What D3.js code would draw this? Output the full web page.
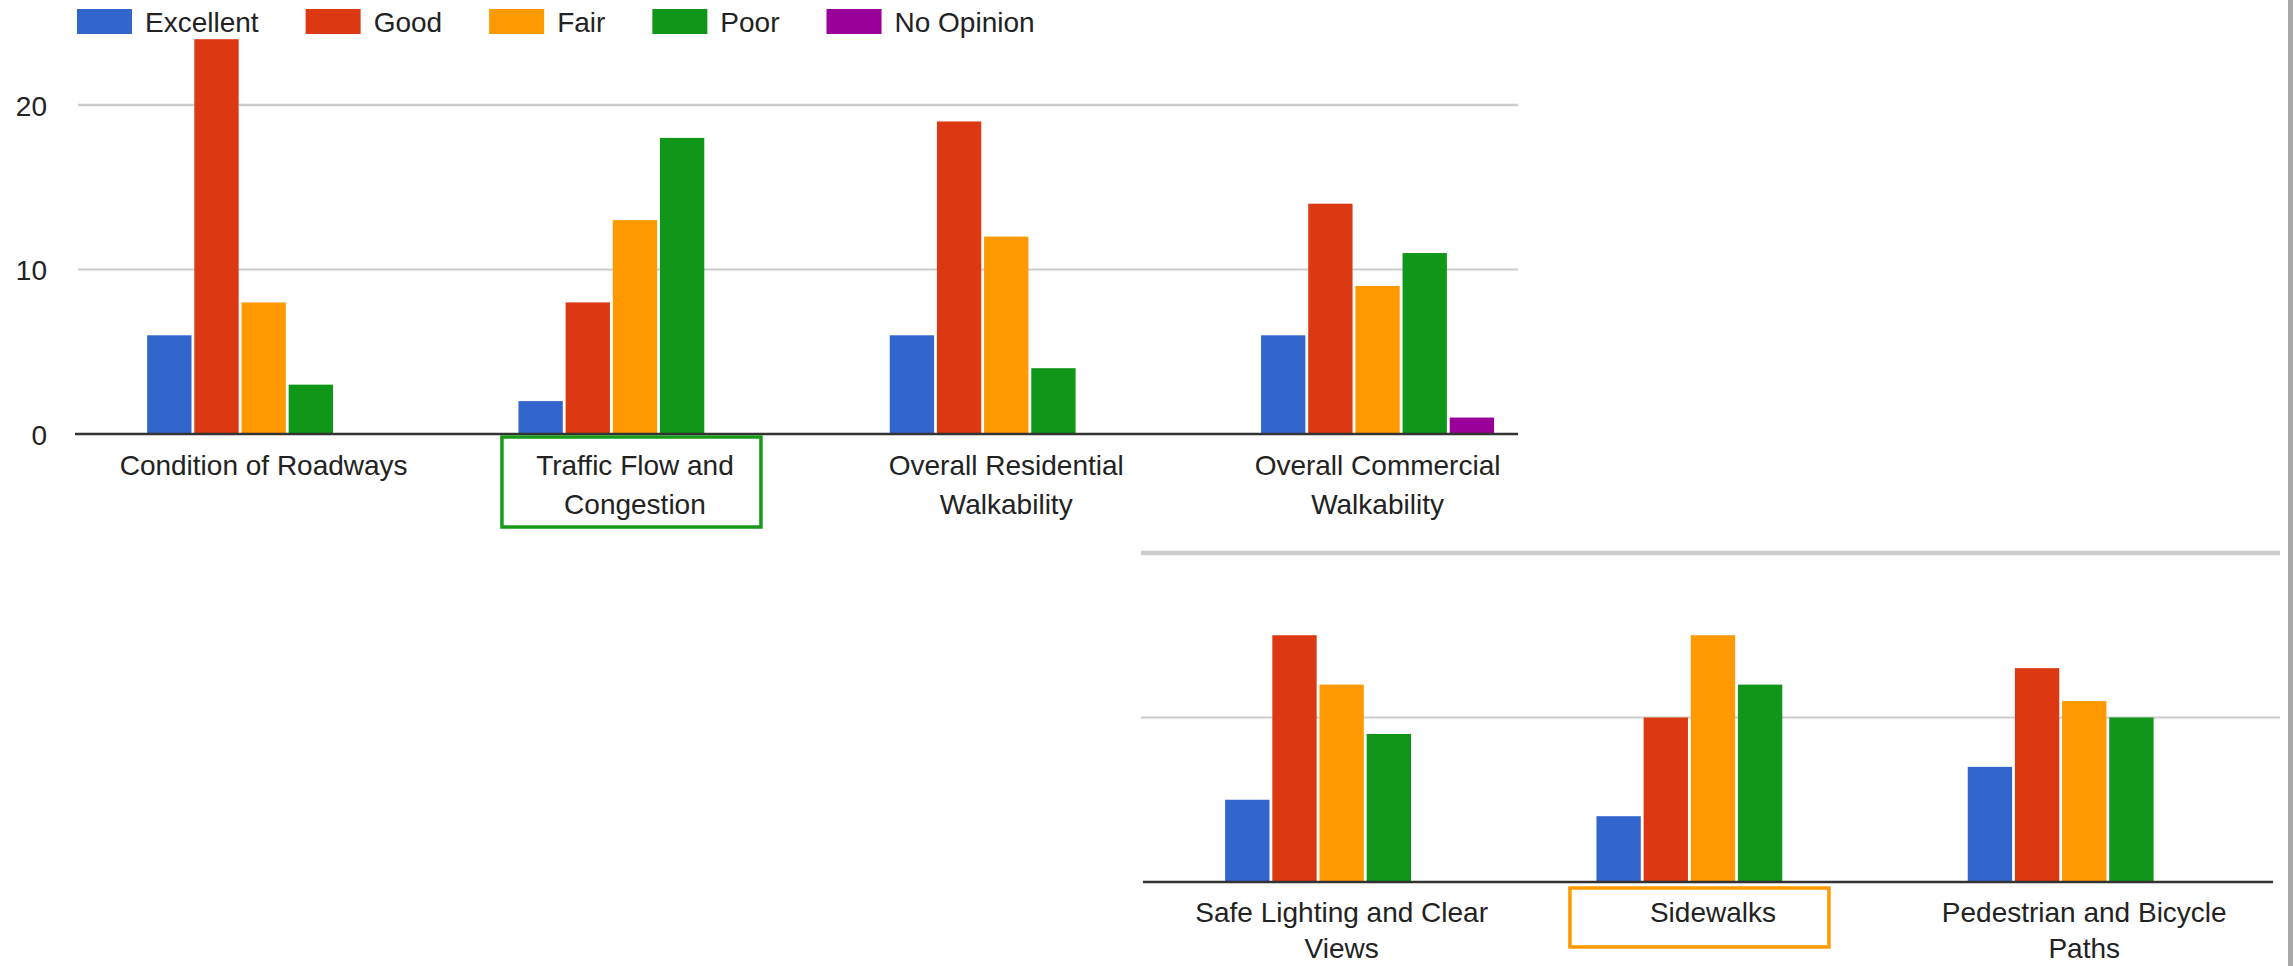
<!DOCTYPE html>
<html>
<head>
<meta charset="utf-8">
<script src="https://cdn.jsdelivr.net/npm/d3@7"></script>
<style>
  html, body { margin: 0; padding: 0; background: #ffffff; }
  svg { display: block; }
  text { font-family: "Liberation Sans", Arial, sans-serif; fill: #222; }
</style>
</head>
<body>
<svg id="chart" width="2293" height="966"></svg>
<script>
// ---------- data ----------
const seriesNames = ["Excellent", "Good", "Fair", "Poor", "No Opinion"];
const seriesColors = ["#3366cc", "#dc3912", "#ff9900", "#109618", "#990099"];

const categoriesTop = ["Condition of Roadways", "Traffic Flow and Congestion",
  "Overall Residential Walkability", "Overall Commercial Walkability"];
const excellentTop = [6, 2, 6, 6];
const goodTop = [24, 8, 19, 14];
const fairTop = [8, 13, 12, 9];
const poorTop = [3, 18, 4, 11];
const noOpinionTop = [0, 0, 0, 1];

const categoriesBottom = ["Safe Lighting and Clear Views", "Sidewalks", "Pedestrian and Bicycle Paths"];
const excellentBottom = [5, 4, 7];
const goodBottom = [15, 10, 13];
const fairBottom = [12, 15, 11];
const poorBottom = [9, 12, 10];
const noOpinionBottom = [0, 0, 0];

const yTickValues = [0, 10, 20];
const highlightTop = "Traffic Flow and Congestion";
const highlightBottom = "Sidewalks";

// ---------- build ----------
const svg = d3.select("#chart");
const FONT = 28;

function rows(cats, cols) {
  return cats.map((c, i) => ({ cat: c, values: cols.map(col => col[i]) }));
}

function wrapText(textSel, maxWidth, lineHeight) {
  textSel.each(function () {
    const t = d3.select(this);
    const words = t.text().split(/\s+/);
    const x = t.attr("x");
    t.text(null);
    let line = [];
    let tspan = t.append("tspan").attr("x", x).attr("dy", 0);
    words.forEach(w => {
      line.push(w);
      tspan.text(line.join(" "));
      if (tspan.node().getComputedTextLength() > maxWidth && line.length > 1) {
        line.pop();
        tspan.text(line.join(" "));
        line = [w];
        tspan = t.append("tspan").attr("x", x).attr("dy", lineHeight).text(w);
      }
    });
  });
}

function drawPanel(opts) {
  const g = svg.append("g");
  const data = rows(opts.categories, opts.columns);
  const step = 371.3;
  const x0 = d3.scaleBand().domain(opts.categories)
    .range([opts.bandStart, opts.bandStart + step * opts.categories.length]).padding(0);
  const groupW = 233;
  const x1 = d3.scaleBand().domain(seriesNames).range([0, groupW]).paddingInner(0.06).paddingOuter(0);
  const y = d3.scaleLinear().domain([0, 20]).range([opts.y0, opts.y20]);

  // gridlines
  g.append("g").selectAll("line").data(yTickValues.filter(v => v > 0)).join("line")
    .attr("x1", opts.gridX1).attr("x2", opts.gridX2)
    .attr("y1", d => y(d)).attr("y2", d => y(d))
    .attr("stroke", "#cccccc")
    .attr("stroke-width", d => (d === 20 ? opts.topGridWidth : 2));

  // y labels
  if (opts.showYLabels) {
    const yAxis = d3.axisLeft(y).tickValues(yTickValues).tickSize(0).tickPadding(0);
    const ya = g.append("g").attr("transform", `translate(47,0)`).call(yAxis);
    ya.select(".domain").remove();
    ya.selectAll("text").attr("font-size", FONT).attr("fill", "#333")
      .attr("font-family", "Liberation Sans, Arial, sans-serif").attr("dy", "0.36em");
  }

  // bars
  const groups = g.append("g").selectAll("g").data(data).join("g")
    .attr("transform", d => `translate(${x0(d.cat) + (x0.bandwidth() - groupW) / 2},0)`);
  groups.selectAll("rect")
    .data(d => d.values.map((v, i) => ({ key: seriesNames[i], value: v, color: seriesColors[i] })))
    .join("rect")
    .attr("x", d => x1(d.key))
    .attr("width", x1.bandwidth())
    .attr("y", d => y(d.value))
    .attr("height", d => y(0) - y(d.value))
    .attr("fill", d => d.color);

  // baseline
  g.append("line")
    .attr("x1", opts.baseX1).attr("x2", opts.baseX2)
    .attr("y1", y(0)).attr("y2", y(0))
    .attr("stroke", "#333").attr("stroke-width", 2.5);

  // category labels (centred on the middle bar slot)
  const center = c => x0(c) + x0.bandwidth() / 2;
  const labels = g.append("g").selectAll("text").data(opts.categories).join("text")
    .attr("x", d => center(d))
    .attr("y", y(0) + opts.labelOffset)
    .attr("text-anchor", "middle")
    .attr("font-size", FONT)
    .text(d => d);
  wrapText(labels, 320, opts.lineHeight);

  // highlight box
  const hc = center(opts.highlight);
  g.append("rect")
    .attr("x", hc + opts.box.dx).attr("y", y(0) + opts.box.dy)
    .attr("width", opts.box.w).attr("height", opts.box.h)
    .attr("fill", "none").attr("stroke", opts.box.color).attr("stroke-width", 3.5);
}

drawPanel({
  categories: categoriesTop,
  columns: [excellentTop, goodTop, fairTop, poorTop, noOpinionTop],
  bandStart: 78, y0: 434, y20: 105,
  gridX1: 78, gridX2: 1518, baseX1: 75, baseX2: 1518,
  topGridWidth: 2.5, showYLabels: true, labelOffset: 41, lineHeight: 39,
  highlight: highlightTop,
  box: { dx: -133, dy: 3, w: 259, h: 90, color: "#1a9a1a" }
});

drawPanel({
  categories: categoriesBottom,
  columns: [excellentBottom, goodBottom, fairBottom, poorBottom, noOpinionBottom],
  bandStart: 1156, y0: 882, y20: 553,
  gridX1: 1141, gridX2: 2280, baseX1: 1143, baseX2: 2273,
  topGridWidth: 4.5, showYLabels: false, labelOffset: 40, lineHeight: 36,
  highlight: highlightBottom,
  box: { dx: -143, dy: 6, w: 259, h: 59, color: "#ff9900" }
});

// ---------- legend ----------
const legend = svg.append("g").attr("class", "legend");
let lx = 77;
seriesNames.forEach((name, i) => {
  legend.append("rect").attr("x", lx).attr("y", 9).attr("width", 55).attr("height", 25)
    .attr("fill", seriesColors[i]);
  const t = legend.append("text").attr("x", lx + 68).attr("y", 32)
    .attr("font-size", FONT).text(name);
  lx += 68 + t.node().getComputedTextLength() + 47;
});

// right-edge frame line of the screenshot
svg.append("rect").attr("x", 2288).attr("y", 0).attr("width", 5).attr("height", 966).attr("fill", "#a8a8a8");
</script>
</body>
</html>
